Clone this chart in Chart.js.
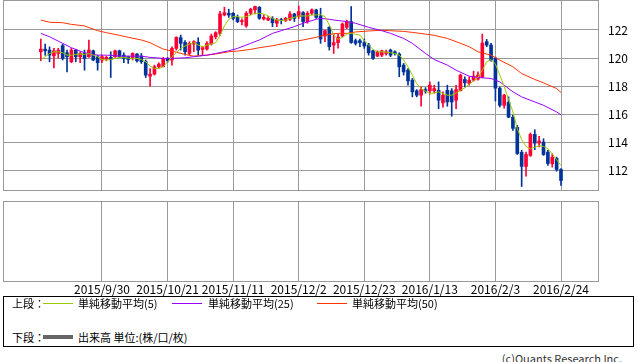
<!DOCTYPE html>
<html>
<head>
<meta charset="utf-8">
<script src="https://cdn.jsdelivr.net/npm/chart.js@4.4.1/dist/chart.umd.min.js"></script>
<style>
  html, body { margin: 0; padding: 0; background: #fff; }
  #wrap { position: relative; width: 638px; height: 362px; overflow: hidden; font-family: "Noto Sans CJK JP", sans-serif; color: #000; }
  canvas { position: absolute; left: 0; }
  #price { top: 0; }
  #vol { top: 200px; }
  #legend { position: absolute; left: 3px; top: 296px; width: 631px; height: 51px; box-sizing: border-box; border: 1px solid #000; font-size: 11px; }
  #legend span { position: absolute; white-space: nowrap; line-height: 14px; }
  #legend .sw { position: absolute; width: 30px; height: 0; }
  #copy { position: absolute; right: 16px; top: 351px; font-size: 11px; line-height: 14px; color: #333; white-space: nowrap; }
</style>
</head>
<body>
<div id="wrap">
  <canvas id="price" width="638" height="191"></canvas>
  <canvas id="vol" width="638" height="96"></canvas>
  <div id="legend">
    <span style="left:8px;top:-1px">上段：</span>
    <div class="sw" style="left:39px;top:6px;border-top:1px solid #99cc00"></div>
    <span style="left:74px;top:-1px">単純移動平均(5)</span>
    <div class="sw" style="left:168px;top:6px;border-top:1px solid #9900ff"></div>
    <span style="left:204px;top:-1px">単純移動平均(25)</span>
    <div class="sw" style="left:313px;top:6px;border-top:1px solid #ff3300"></div>
    <span style="left:348px;top:-1px">単純移動平均(50)</span>
    <span style="left:8px;top:33px">下段：</span>
    <div class="sw" style="left:39px;top:38px;border-top:4px solid #666666"></div>
    <span style="left:74px;top:33px">出来高 単位:(株/口/枚)</span>
  </div>
  <div id="copy">(c)Ouants Research Inc.</div>
</div>
<script>
// 日足 2015/9/10 - 2016/2/24 (index 0 - 119)
const open = [
  120.45, 120.64, 120.57, 120.16, 120.33, 120.88, 120.38, 119.74, 120.57, 120.10,
  120.33, 120.10, 120.52, 120.10, 119.86, 119.93, 120.05, 120.10, 120.52, 120.21,
  120.10, 119.98, 120.29, 120.14, 119.74, 118.71, 118.86, 119.38, 119.38, 119.98,
  119.86, 120.69, 121.45, 121.12, 120.33, 121.00, 121.12, 120.62, 120.64, 121.00,
  121.52, 121.76, 123.07, 123.19, 123.19, 122.90, 122.60, 122.29, 123.19, 123.43,
  123.62, 122.79, 122.71, 122.83, 122.48, 122.71, 122.67, 122.76, 123.14, 122.95,
  123.24, 122.60, 123.19, 123.43, 123.00, 121.57, 122.19, 120.93, 121.10, 121.57,
  122.19, 122.60, 121.24, 121.24, 121.10, 120.93, 120.52, 120.14, 120.21, 120.33,
  120.57, 120.45, 120.29, 119.50, 119.14, 118.43, 117.67, 117.36, 117.76, 117.67,
  117.67, 117.71, 116.81, 117.71, 117.67, 117.00, 117.67, 118.48, 118.21, 118.43,
  118.50, 118.64, 121.17, 120.93, 120.00, 117.86, 116.64, 116.86, 115.79, 115.07,
  113.29, 112.29, 113.07, 114.57, 113.95, 114.02, 113.31, 112.48, 112.86, 112.07
];
const high = [
  121.36, 121.00, 120.80, 120.70, 120.70, 121.00, 120.57, 120.70, 120.62, 120.45,
  120.57, 121.29, 120.57, 120.21, 120.21, 120.14, 120.45, 120.57, 120.57, 120.38,
  120.14, 120.38, 120.33, 120.33, 119.86, 119.26, 119.50, 119.67, 120.05, 120.05,
  120.81, 121.52, 121.64, 121.24, 121.17, 121.24, 121.45, 120.81, 121.17, 121.71,
  121.88, 123.33, 123.62, 123.48, 123.24, 123.07, 122.79, 123.31, 123.55, 123.71,
  123.67, 123.07, 122.95, 122.95, 122.83, 122.83, 122.90, 123.31, 123.19, 123.71,
  123.31, 123.31, 123.50, 123.48, 123.55, 122.00, 122.24, 121.76, 121.70, 122.50,
  122.70, 123.67, 121.36, 121.36, 121.36, 121.05, 120.57, 120.52, 120.57, 120.57,
  120.64, 120.52, 120.38, 119.62, 119.26, 118.55, 117.76, 117.95, 117.90, 118.31,
  118.07, 118.31, 117.60, 118.07, 117.83, 118.07, 118.86, 118.67, 118.67, 119.07,
  119.02, 121.71, 121.33, 121.05, 120.07, 117.95, 117.43, 117.24, 115.95, 115.21,
  113.43, 113.31, 114.67, 114.90, 114.43, 114.26, 113.43, 113.19, 112.95, 112.14
];
const low = [
  119.81, 120.20, 119.74, 119.30, 120.00, 119.86, 119.02, 119.67, 119.74, 119.67,
  119.14, 120.05, 119.81, 119.14, 119.67, 119.81, 118.62, 120.05, 120.05, 119.67,
  119.62, 119.86, 119.71, 119.62, 118.62, 118.00, 118.79, 119.26, 119.38, 119.70,
  119.50, 120.57, 120.57, 120.21, 120.21, 120.45, 120.21, 120.21, 120.57, 120.93,
  121.36, 121.62, 123.00, 122.90, 122.71, 122.52, 122.36, 122.19, 123.07, 123.14,
  122.76, 122.71, 122.67, 122.24, 122.24, 122.43, 122.60, 122.67, 122.60, 122.83,
  122.24, 122.48, 123.07, 122.83, 121.05, 121.17, 120.57, 120.33, 120.70, 121.50,
  122.10, 121.05, 120.93, 120.81, 120.69, 120.21, 119.90, 120.10, 120.10, 120.21,
  120.10, 120.21, 118.67, 118.79, 118.07, 117.24, 117.24, 116.57, 117.50, 117.43,
  117.50, 116.40, 116.50, 116.57, 115.86, 116.40, 117.67, 117.95, 118.07, 118.36,
  118.43, 118.60, 120.81, 119.79, 116.95, 116.52, 116.43, 115.76, 114.86, 113.14,
  110.86, 111.60, 113.00, 113.48, 113.67, 113.07, 112.36, 112.24, 111.95, 110.93
];
const close = [
  120.64, 120.52, 120.21, 120.52, 120.57, 119.98, 120.10, 120.57, 120.10, 120.33,
  119.98, 120.57, 119.86, 119.67, 120.10, 120.05, 119.90, 120.52, 120.10, 119.98,
  119.90, 120.33, 119.81, 119.74, 118.79, 118.86, 119.38, 119.57, 119.98, 119.81,
  120.69, 121.48, 121.05, 120.45, 121.05, 121.17, 120.57, 120.74, 121.05, 121.57,
  121.81, 123.14, 123.24, 123.07, 122.83, 122.60, 122.67, 123.19, 123.48, 123.67,
  122.83, 122.90, 122.83, 122.52, 122.71, 122.67, 122.83, 123.14, 122.83, 123.31,
  122.60, 123.19, 123.43, 122.90, 121.36, 121.95, 120.81, 121.10, 121.50, 122.43,
  122.60, 121.12, 121.05, 121.10, 120.86, 120.38, 119.98, 120.45, 120.52, 120.45,
  120.21, 120.33, 119.38, 119.02, 118.38, 117.60, 117.36, 117.76, 117.64, 118.07,
  117.83, 117.00, 117.36, 116.88, 116.88, 117.76, 118.79, 118.24, 118.43, 118.71,
  118.79, 121.07, 120.93, 119.86, 117.86, 116.64, 117.36, 115.79, 115.00, 113.21,
  112.29, 113.14, 114.57, 113.95, 114.10, 113.14, 112.50, 112.95, 112.07, 111.29
];

// 単純移動平均(5)
const ma5 = [
  119.86, 120.10, 120.33, 120.45, 120.45, 120.38, 120.21, 120.21, 120.26, 120.29,
  120.26, 120.33, 120.21, 120.10, 119.90, 119.86, 119.90, 119.98, 120.05, 120.05,
  120.00, 119.98, 119.98, 119.90, 119.74, 119.43, 119.26, 119.26, 119.38, 119.74,
  120.10, 120.38, 120.69, 120.86, 121.00, 121.10, 120.93, 120.81, 120.93, 121.00,
  121.10, 121.60, 122.30, 122.75, 122.95, 122.95, 122.90, 122.95, 123.07, 123.19,
  123.19, 123.14, 123.00, 122.83, 122.71, 122.67, 122.71, 122.83, 122.90, 123.00,
  123.00, 123.00, 123.07, 123.07, 123.10, 122.95, 122.36, 121.64, 121.33, 121.48,
  121.71, 121.76, 121.69, 121.64, 121.24, 120.93, 120.62, 120.45, 120.45, 120.43,
  120.38, 120.33, 120.21, 119.86, 119.38, 118.79, 118.19, 117.83, 117.64, 117.48,
  117.52, 117.60, 117.48, 117.36, 117.36, 117.52, 117.71, 117.88, 118.14, 118.38,
  118.62, 119.14, 119.74, 119.90, 119.57, 118.79, 118.00, 117.05, 116.17, 114.98,
  114.19, 113.71, 113.55, 113.67, 113.76, 113.71, 113.55, 113.19, 112.76, 112.36
];

// 25日・50日線は読み取り位置(index)ごと
const maIdx = [
  0, 2, 5, 7, 10, 13, 15, 18, 20, 23, 25, 28, 30, 33, 35, 38, 40, 43, 45, 48,
  50, 53, 55, 58, 60, 63, 64, 66, 68, 70, 72, 75, 78, 80, 83, 85, 88, 90, 93, 95,
  98, 100, 103, 105, 108, 110, 113, 115, 118, 119
];
const ma25 = [
  121.76, 121.52, 121.05, 120.74, 120.38, 120.21, 120.21, 120.14, 120.14, 120.14,
  120.05, 119.98, 119.98, 120.02, 120.10, 120.21, 120.33, 120.52, 120.69, 121.05,
  121.29, 121.76, 121.95, 122.24, 122.48, 122.76, 122.83, 122.76, 122.67, 122.60,
  122.48, 122.19, 121.95, 121.76, 121.40, 121.05, 120.33, 119.90, 119.50, 119.14,
  118.71, 118.62, 118.55, 118.31, 117.60, 117.24, 116.88, 116.64, 116.17, 115.96
];
const ma50 = [
  122.71, 122.55, 122.52, 122.40, 122.29, 121.95, 121.81, 121.62, 121.48, 121.29,
  121.10, 120.64, 120.50, 120.26, 120.14, 120.21, 120.29, 120.45, 120.50, 120.62,
  120.74, 120.88, 121.00, 121.19, 121.29, 121.48, 121.57, 121.69, 121.76, 121.76,
  121.86, 121.93, 121.98, 121.95, 121.90, 121.83, 121.71, 121.62, 121.40, 121.17,
  120.81, 120.45, 120.21, 119.86, 119.38, 118.90, 118.48, 118.24, 117.83, 117.55
];

// 出来高 (為替のためなし)
const volume = [];

const tickIdx = [14, 29, 44, 59, 74, 89, 104, 119];
const tickLabels = ['2015/9/30', '2015/10/21', '2015/11/11', '2015/12/2', '2015/12/23', '2016/1/13', '2016/2/3', '2016/2/24'];
const priceTicks = [112, 114, 116, 118, 120, 122];

const RED = '#ff0033';
const BLUE = '#003399';
const GRID = '#999999';
const X_MIN = -8.647, X_MAX = 127.464;

const idx = open.map((_, i) => i);
const candleColor = idx.map(i => close[i] >= open[i] ? RED : BLUE);

const framePlugin = {
  id: 'frame',
  afterDraw(chart) {
    const { ctx, chartArea: a } = chart;
    ctx.save();
    ctx.strokeStyle = GRID;
    ctx.lineWidth = 1;
    ctx.strokeRect(Math.round(a.left) + 0.5, Math.round(a.top) + 0.5,
      Math.round(a.right - a.left), Math.round(a.bottom - a.top));
    ctx.restore();
  }
};

// 軸ラベルのはみ出し分の余白を使わない
const noPad = s => { s.paddingTop = 0; s.paddingBottom = 0; s.paddingLeft = 0; s.paddingRight = 0; };

Chart.defaults.font.family = '"Noto Sans CJK JP", sans-serif';
Chart.defaults.color = '#000';

const xBase = {
  type: 'linear',
  min: X_MIN,
  max: X_MAX,
  offset: false,
  afterBuildTicks: s => { s.ticks = tickIdx.map(v => ({ value: v })); },
  grid: { color: GRID, drawTicks: false, offset: false },
  border: { display: false }
};

new Chart(document.getElementById('price'), {
  type: 'bar',
  data: {
    datasets: [
      { type: 'line', label: '単純移動平均(5)', data: idx.map(i => ({ x: i, y: ma5[i] })),
        borderColor: '#99cc00', borderWidth: 1, pointRadius: 0, order: 0 },
      { type: 'line', label: '単純移動平均(25)', data: maIdx.map((x, k) => ({ x, y: ma25[k] })),
        borderColor: '#9900ff', borderWidth: 1, pointRadius: 0, order: 0 },
      { type: 'line', label: '単純移動平均(50)', data: maIdx.map((x, k) => ({ x, y: ma50[k] })),
        borderColor: '#ff3300', borderWidth: 1, pointRadius: 0, order: 0 },
      { label: 'body', data: idx.map(i => ({ x: i, y: [open[i], close[i]] })),
        backgroundColor: candleColor, barThickness: 3, minBarLength: 1, grouped: false, order: 1 },
      { label: 'wick', data: idx.map(i => ({ x: i, y: [low[i], high[i]] })),
        backgroundColor: candleColor, barThickness: 1, grouped: false, order: 2 }
    ]
  },
  options: {
    responsive: false,
    animation: false,
    layout: { padding: { left: 3, top: 0, right: 0, bottom: 1 } },
    plugins: { legend: { display: false }, tooltip: { enabled: false } },
    scales: {
      x: { ...xBase, ticks: { display: true, callback: () => '' },
        afterFit: s => { s.height = 0; noPad(s); } },
      y: {
        position: 'right',
        min: 110.612,
        max: 124.135,
        afterBuildTicks: s => { s.ticks = priceTicks.map(v => ({ value: v })); },
        afterFit: s => { s.width = 40; noPad(s); },
        grid: { color: GRID, drawTicks: false },
        border: { display: false },
        ticks: { padding: 10, font: { size: 12 }, color: '#000' }
      }
    }
  },
  plugins: [framePlugin]
});

new Chart(document.getElementById('vol'), {
  type: 'bar',
  data: {
    datasets: [
      { label: '出来高', data: volume, backgroundColor: '#666666' }
    ]
  },
  options: {
    responsive: false,
    animation: false,
    layout: { padding: { left: 3, top: 1, right: 40, bottom: 0 } },
    plugins: { legend: { display: false }, tooltip: { enabled: false } },
    scales: {
      x: {
        ...xBase,
        afterFit: s => { s.height = 15; noPad(s); },
        ticks: {
          padding: 1,
          autoSkip: false,
          maxRotation: 0,
          font: { size: 12 },
          color: '#000',
          callback: v => tickLabels[tickIdx.indexOf(v)]
        }
      },
      y: { display: false, min: 0, max: 1 }
    }
  },
  plugins: [framePlugin]
});
</script>
</body>
</html>
